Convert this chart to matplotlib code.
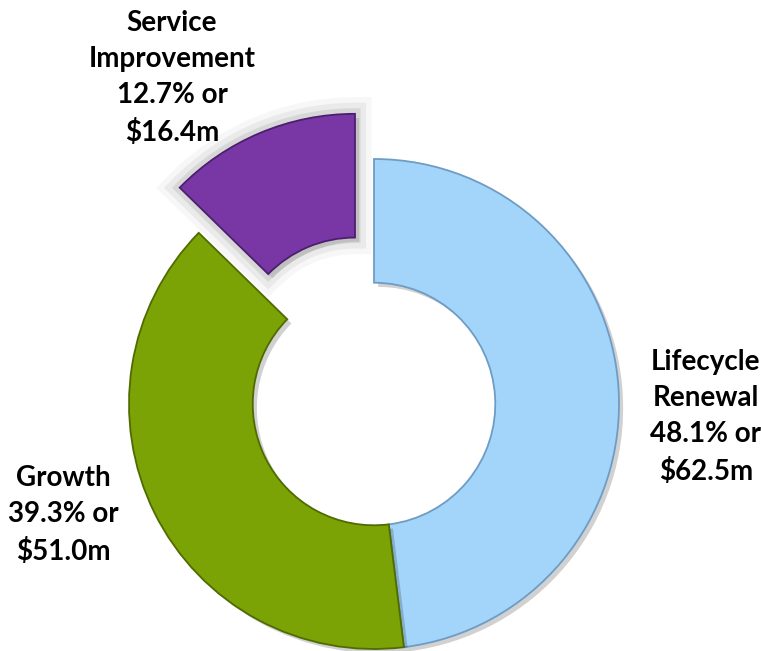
import matplotlib
matplotlib.use("Agg")
import matplotlib.pyplot as plt
import matplotlib.patheffects as pe

categories = ["Lifecycle\nRenewal", "Growth", "Service\nImprovement"]
percents = [48.1, 39.3, 12.7]
amounts = [62.5, 51.0, 16.4]
colors = ["#A3D5FA", "#7BA305", "#7937A6"]
edge_colors = ["#6E9CC4", "#4F6B02", "#4C1F6E"]
explode = [0.0, 0.0, 0.2]

W, H = 761, 651
CX, CY, R = 374, 404, 245  # pixel center and outer radius

fig = plt.figure(figsize=(W / 100, H / 100), dpi=100)
ax = fig.add_axes([0, 0, 1, 1])

wedges, _ = ax.pie(
    percents,
    colors=colors,
    startangle=90,
    counterclock=False,
    explode=explode,
    radius=1.0,
    wedgeprops=dict(width=0.505, linewidth=1.3),
)
for i, (w, ec) in enumerate(zip(wedges, edge_colors)):
    w.set_edgecolor(ec)
    if i == 2:
        effects = [
            pe.SimplePatchShadow(offset=(3, -3), shadow_rgbFace="#000000", alpha=0.10),
            pe.Stroke(linewidth=24, foreground="#000000", alpha=0.03),
            pe.Stroke(linewidth=16, foreground="#000000", alpha=0.05),
            pe.Stroke(linewidth=8, foreground="#000000", alpha=0.08),
            pe.Normal(),
        ]
    else:
        effects = [
            pe.SimplePatchShadow(offset=(3, -3), shadow_rgbFace="#000000", alpha=0.18),
            pe.Normal(),
        ]
    w.set_path_effects(effects)

ax.set_xlim(-CX / R, (W - CX) / R)
ax.set_ylim(-(H - CY) / R, CY / R)
ax.set_aspect("equal", adjustable="box")
ax.axis("off")

def px(x, y):
    return (x - CX) / R, (CY - y) / R

label_pos = [(706, 417), (63, 515), (172, 78)]
font = dict(family=["Lato", "DejaVu Sans"], fontsize=20, fontweight="bold", color="black")
for cat, p, a, (lx, ly) in zip(categories, percents, amounts, label_pos):
    txt = f"{cat}\n{p:.1f}% or\n${a:.1f}m"
    x, y = px(lx, ly)
    ax.text(x, y, txt, ha="center", va="center", linespacing=1.48, **font)

fig.savefig("out.png", dpi=100)
